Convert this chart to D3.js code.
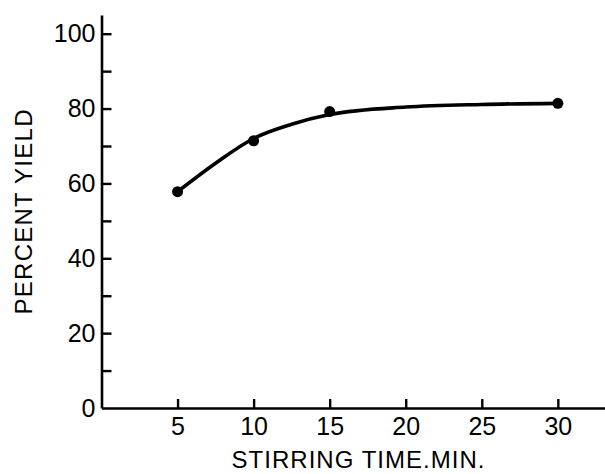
<!DOCTYPE html>
<html>
<head>
<meta charset="utf-8">
<script src="https://cdn.jsdelivr.net/npm/d3@7"></script>
<style>
  body { margin: 0; background: #fff; }
  svg { display: block; }
  text { font-family: "Liberation Sans", Arial, sans-serif; fill: #000; }
</style>
</head>
<body>
<svg width="605" height="474"></svg>
<script>
// measured points
const stirTime = [5, 10, 15, 30];
const yieldPct = [57.8, 71.4, 79.2, 81.4];

// hand-drawn smooth curve
const curveTime = [5, 7.5, 10, 12.5, 15, 20, 25, 30];
const curveYield = [57.8, 65.4, 72.0, 75.8, 78.4, 80.4, 81.1, 81.4];

const xTicks = [5, 10, 15, 20, 25, 30];
const yTicks = [0, 10, 20, 30, 40, 50, 60, 70, 80, 90, 100];
const yLabels = [0, 20, 40, 60, 80, 100];

const svg = d3.select("svg");

const x = d3.scaleLinear().domain([0, 33.1]).range([101.5, 605]);
const y = d3.scaleLinear().domain([0, 105]).range([408, 15]);

const xAxis = svg.append("g")
  .attr("transform", `translate(0,${y(0)})`)
  .call(d3.axisBottom(x).tickValues(xTicks).tickSizeInner(-9).tickSizeOuter(0).tickPadding(9));

const yAxis = svg.append("g")
  .attr("transform", `translate(${x(0)},0)`)
  .call(d3.axisLeft(y).tickValues(yTicks).tickSizeInner(-10).tickSizeOuter(0).tickPadding(6)
    .tickFormat(d => yLabels.includes(d) ? d : ""));

[xAxis, yAxis].forEach(a => {
  a.select(".domain").attr("stroke", "#000").attr("stroke-width", 2.6);
  a.selectAll(".tick line").attr("stroke", "#000").attr("stroke-width", 2.4);
  a.selectAll(".tick text").attr("font-size", 25).attr("font-family", "Liberation Sans, Arial, sans-serif").attr("fill", "#000");
});
yAxis.selectAll(".tick").filter(d => d === 0).select("line").remove();

const curvePts = curveTime.map((t, i) => [t, curveYield[i]]);
svg.append("path")
  .datum(curvePts)
  .attr("fill", "none")
  .attr("stroke", "#000")
  .attr("stroke-width", 3.6)
  .attr("d", d3.line().x(d => x(d[0])).y(d => y(d[1])).curve(d3.curveMonotoneX));

svg.selectAll("circle.pt")
  .data(stirTime.map((t, i) => [t, yieldPct[i]]))
  .enter().append("circle")
  .attr("class", "pt")
  .attr("cx", d => x(d[0]))
  .attr("cy", d => y(d[1]))
  .attr("r", 5.5)
  .attr("fill", "#000");

svg.append("text")
  .attr("x", 358)
  .attr("y", 468)
  .attr("text-anchor", "middle")
  .attr("font-size", 24)
  .attr("textLength", 253)
  .attr("lengthAdjust", "spacing")
  .text("STIRRING TIME.MIN.");

svg.append("text")
  .attr("transform", "translate(32,212) rotate(-90)")
  .attr("text-anchor", "middle")
  .attr("font-size", 24)
  .attr("textLength", 205)
  .attr("lengthAdjust", "spacing")
  .text("PERCENT YIELD");
</script>
</body>
</html>
